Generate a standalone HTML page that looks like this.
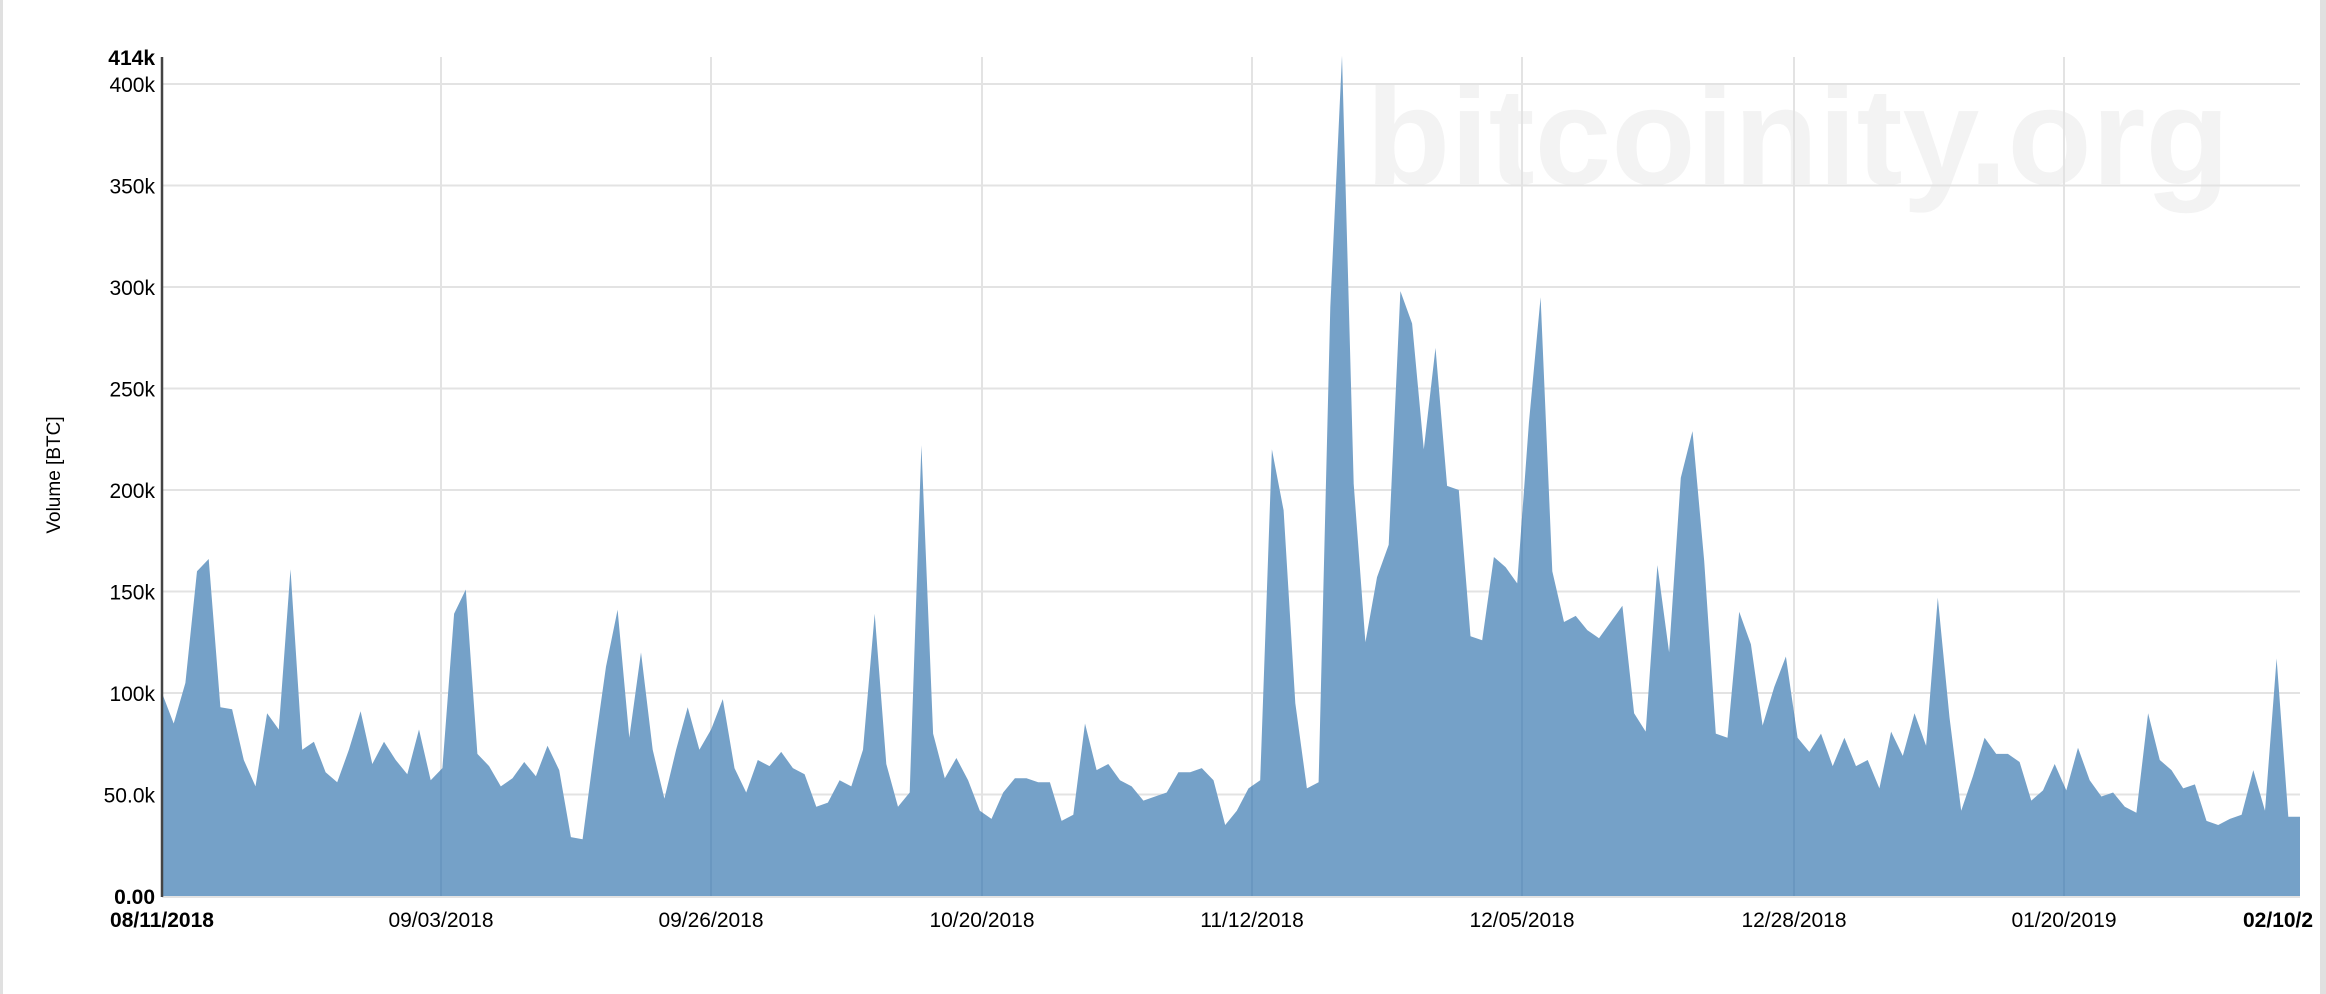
<!DOCTYPE html>
<html><head><meta charset="utf-8">
<style>
html,body{margin:0;padding:0;background:#fff;}
body{width:2326px;height:994px;overflow:hidden;position:relative;font-family:"Liberation Sans",Arial,sans-serif;}
</style></head>
<body>
<svg id="c" width="2326" height="994" xmlns="http://www.w3.org/2000/svg" style="position:absolute;left:0;top:0">
<defs><clipPath id="clip"><path id="clipp"/></clipPath></defs>
<rect x="0" y="0" width="3" height="994" fill="#e0e0e0"/>
<rect x="2320" y="0" width="6" height="994" fill="#e0e0e0"/>
<text x="1366" y="184" font-family="Liberation Sans, Arial, sans-serif" font-weight="bold" font-size="138" fill="#f3f3f3">bitcoinity.org</text>
<g id="grid" stroke="#e3e3e3" stroke-width="2"></g>
<path id="area" fill="#75a1c8" stroke="none"/>
<g id="vgrid" stroke="#5f8db8" stroke-opacity="0.5" stroke-width="2" clip-path="url(#clip)"></g>
<line x1="162" y1="897" x2="2300" y2="897" stroke="#e3e3e3" stroke-width="2"/>
<line x1="162" y1="57" x2="162" y2="897" stroke="#444" stroke-width="2.5"/>
<g id="ylab" font-size="21" text-anchor="end" fill="#000"></g>
<g id="xlab" font-size="21" text-anchor="middle" fill="#000"></g>
<text transform="translate(60,475) rotate(-90)" font-size="19" text-anchor="middle">Volume [BTC]</text>
</svg>
<script>
var v=[100,85,105,160,166,93,92,67,54,90,82,161,72,76,61,56,72,91,65,76,67,60,82,57,63,139,151,70,64,54,58,66,59,74,62,29,28,72,113,141,78,120,72,48,72,93,72,82,97,63,51,67,64,71,63,60,44,46,57,54,72,139,65,44,51,222,80,58,68,57,42,38,51,58,58,56,56,37,40,85,62,65,57,54,47,49,51,61,61,63,57,35,42,53,57,220,190,95,53,56,290,414,203,125,157,173,298,282,220,270,202,200,128,126,167,162,154,233,295,160,135,138,131,127,135,143,90,81,163,120,206,229,165,80,78,140,124,84,103,118,78,71,80,64,78,64,67,53,81,69,90,74,147,88,42,59,78,70,70,66,47,52,65,52,73,57,49,51,44,41,90,67,62,53,55,37,35,38,40,62,42,117,39,39];
var x0=162,x1=2300,n=v.length,dx=(x1-x0)/(n-1);
function Y(k){return 896-k*2.03;}
var d="M"+x0+",896";
for(var i=0;i<n;i++){d+=" L"+(x0+i*dx).toFixed(1)+","+Y(v[i]).toFixed(1);}
d+=" L"+x1+",896 Z";
document.getElementById('area').setAttribute('d',d);
document.getElementById('clipp').setAttribute('d',d);
var ns="http://www.w3.org/2000/svg";
function el(p,t,a,txt){var e=document.createElementNS(ns,t);for(var k in a)e.setAttribute(k,a[k]);if(txt)e.textContent=txt;p.appendChild(e);return e;}
var g=document.getElementById('grid'),yl=document.getElementById('ylab');
var labs=["0.00","50.0k","100k","150k","200k","250k","300k","350k","400k"];
for(var j=0;j<=8;j++){var y=Y(j*50);if(j>0)el(g,'line',{x1:162,x2:2300,y1:y,y2:y});
 el(yl,'text',{x:155,y:y+8,'font-weight':j==0?'bold':'normal'},labs[j]);}
el(yl,'text',{x:155,y:65,'font-weight':'bold'},"414k");
var vx=[441,711,982,1252,1522,1794,2064],vg=document.getElementById('vgrid'),xl=document.getElementById('xlab');
var dl=["09/03/2018","09/26/2018","10/20/2018","11/12/2018","12/05/2018","12/28/2018","01/20/2019"];
for(var j=0;j<vx.length;j++){el(g,'line',{x1:vx[j],x2:vx[j],y1:57,y2:896});el(vg,'line',{x1:vx[j],x2:vx[j],y1:57,y2:896});
 el(xl,'text',{x:vx[j],y:927},dl[j]);}
el(xl,'text',{x:162,y:927,'font-weight':'bold'},"08/11/2018");
el(xl,'text',{x:2243,y:927,'font-weight':'bold','text-anchor':'start'},"02/10/2");
</script>
</body></html>
